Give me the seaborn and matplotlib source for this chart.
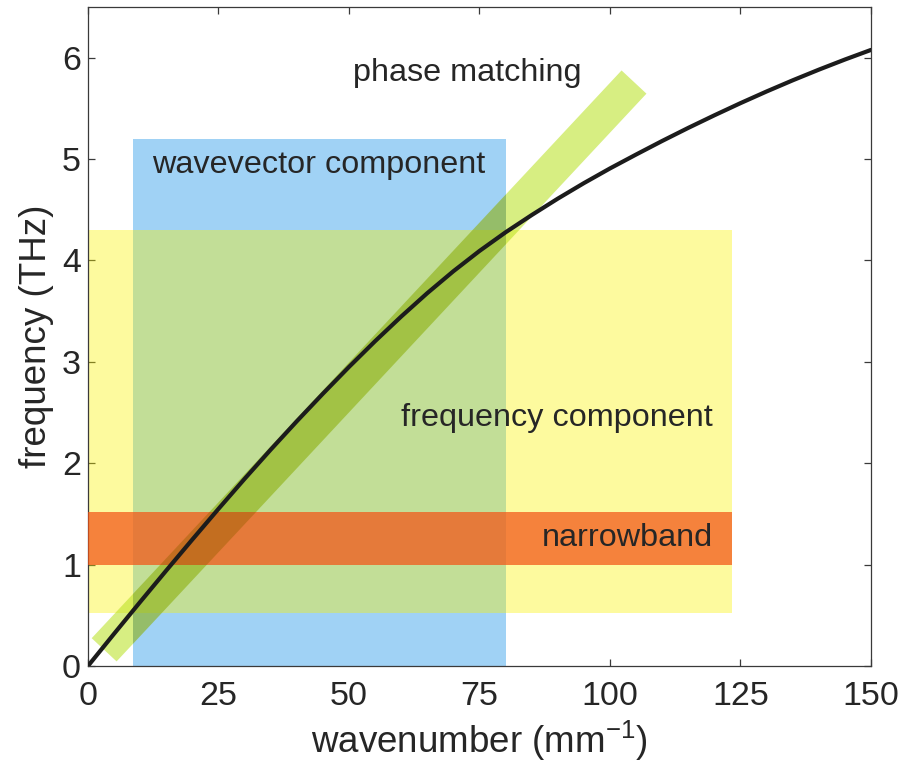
import matplotlib
matplotlib.use("Agg")
import matplotlib.pyplot as plt
import pandas as pd
import seaborn as sns

# Dispersion relation: frequency (THz) vs wavenumber (mm^-1)
wavenumber = [0, 5, 10, 15, 20, 25, 30, 35, 40, 45, 50, 55, 60, 65, 70, 75, 80,
              85, 90, 95, 100, 105, 110, 115, 120, 125, 130, 135, 140, 145, 150]
frequency = [0.0, 0.318, 0.632, 0.942, 1.248, 1.550, 1.846, 2.134, 2.414, 2.686,
             2.950, 3.204, 3.447, 3.678, 3.894, 4.094, 4.278, 4.448, 4.610, 4.763,
             4.908, 5.045, 5.179, 5.308, 5.432, 5.552, 5.667, 5.777, 5.882, 5.982,
             6.077]

# Shaded regions (wavenumber span, frequency span)
wavevector_k = [8.6, 80.0]
wavevector_f = [0.0, 5.2]
freqcomp_k = [0.0, 123.4]
freqcomp_f = [0.52, 4.30]
narrow_k = [0.0, 123.4]
narrow_f = [1.0, 1.52]

# Phase-matching band: centre line end points
phase_k = [3.1, 104.6]
phase_f = [0.16, 5.76]

x_ticks = [0, 25, 50, 75, 100, 125, 150]
y_ticks = [0, 1, 2, 3, 4, 5, 6]

sns.set_style("ticks")
plt.rcParams["font.family"] = ["Liberation Sans", "DejaVu Sans"]
plt.rcParams["mathtext.fontset"] = "custom"
plt.rcParams["mathtext.rm"] = "Liberation Sans"
plt.rcParams["mathtext.it"] = "Liberation Sans:italic"

text_col = "#262626"

fig = plt.figure(figsize=(9.04, 7.63), dpi=100)
ax = fig.add_axes([0.0973, 0.1271, 0.8662, 0.8637])

# wavevector component (blue)
blue = ax.fill_between(wavevector_k, wavevector_f[0], wavevector_f[1],
                       color=(160 / 255, 210 / 255, 245 / 255), lw=0, zorder=1)
# frequency component (yellow)
ax.fill_between(freqcomp_k, freqcomp_f[0], freqcomp_f[1],
                color=(250 / 255, 242 / 255, 0.0), alpha=0.38, lw=0, zorder=2)

# phase matching band
band = pd.DataFrame({"k": phase_k, "f": phase_f})
sns.lineplot(data=band, x="k", y="f", ax=ax, color=(182 / 255, 224 / 255, 28 / 255),
             alpha=0.55, linewidth=24.5, solid_capstyle="butt", zorder=3)

# narrowband (orange)
ax.fill_between(narrow_k, narrow_f[0], narrow_f[1],
                color=(243 / 255, 84 / 255, 22 / 255), alpha=0.72, lw=0, zorder=4)

# band shading where it overlaps the wavevector window
sns.lineplot(data=band, x="k", y="f", ax=ax, color="#203000", alpha=0.16,
             linewidth=24.5, solid_capstyle="butt", zorder=4.5)
ax.lines[-1].set_clip_path(blue.get_paths()[0], ax.transData)

# dispersion curve
curve = pd.DataFrame({"k": wavenumber, "f": frequency})
sns.lineplot(data=curve, x="k", y="f", ax=ax, color="#1c1c1c", linewidth=3.0,
             zorder=5, solid_capstyle="round")

ax.text(50.8, 5.85, "phase matching", fontsize=23.3, color=text_col,
        ha="left", va="center", zorder=6)
ax.text(12.3, 4.94, "wavevector component", fontsize=23.3, color=text_col,
        ha="left", va="center", zorder=6)
ax.text(119.7, 2.45, "frequency component", fontsize=23.3, color=text_col,
        ha="right", va="center", zorder=6)
ax.text(119.7, 1.265, "narrowband", fontsize=23.3, color=text_col,
        ha="right", va="center", zorder=6)

ax.set_xlim(0, 150)
ax.set_ylim(0, 6.5)
ax.set_xticks(x_ticks)
ax.set_yticks(y_ticks)
ax.set_xticklabels([str(v) for v in x_ticks])
ax.set_yticklabels([str(v) for v in y_ticks])

ax.tick_params(direction="in", length=5, width=0.9, colors="#3a3a3a",
               labelcolor=text_col, labelsize=24.5, top=True, right=True)
ax.tick_params(axis="x", pad=11)
ax.tick_params(axis="y", pad=5)

for s in ax.spines.values():
    s.set_visible(True)
    s.set_color("#3a3a3a")
    s.set_linewidth(0.9)

ax.set_xlabel("wavenumber (mm$^{-1}$)", fontsize=26.5, color=text_col, labelpad=5)
ax.set_ylabel("frequency (THz)", fontsize=26.5, color=text_col, labelpad=6)

fig.savefig("out.png", dpi=100)
